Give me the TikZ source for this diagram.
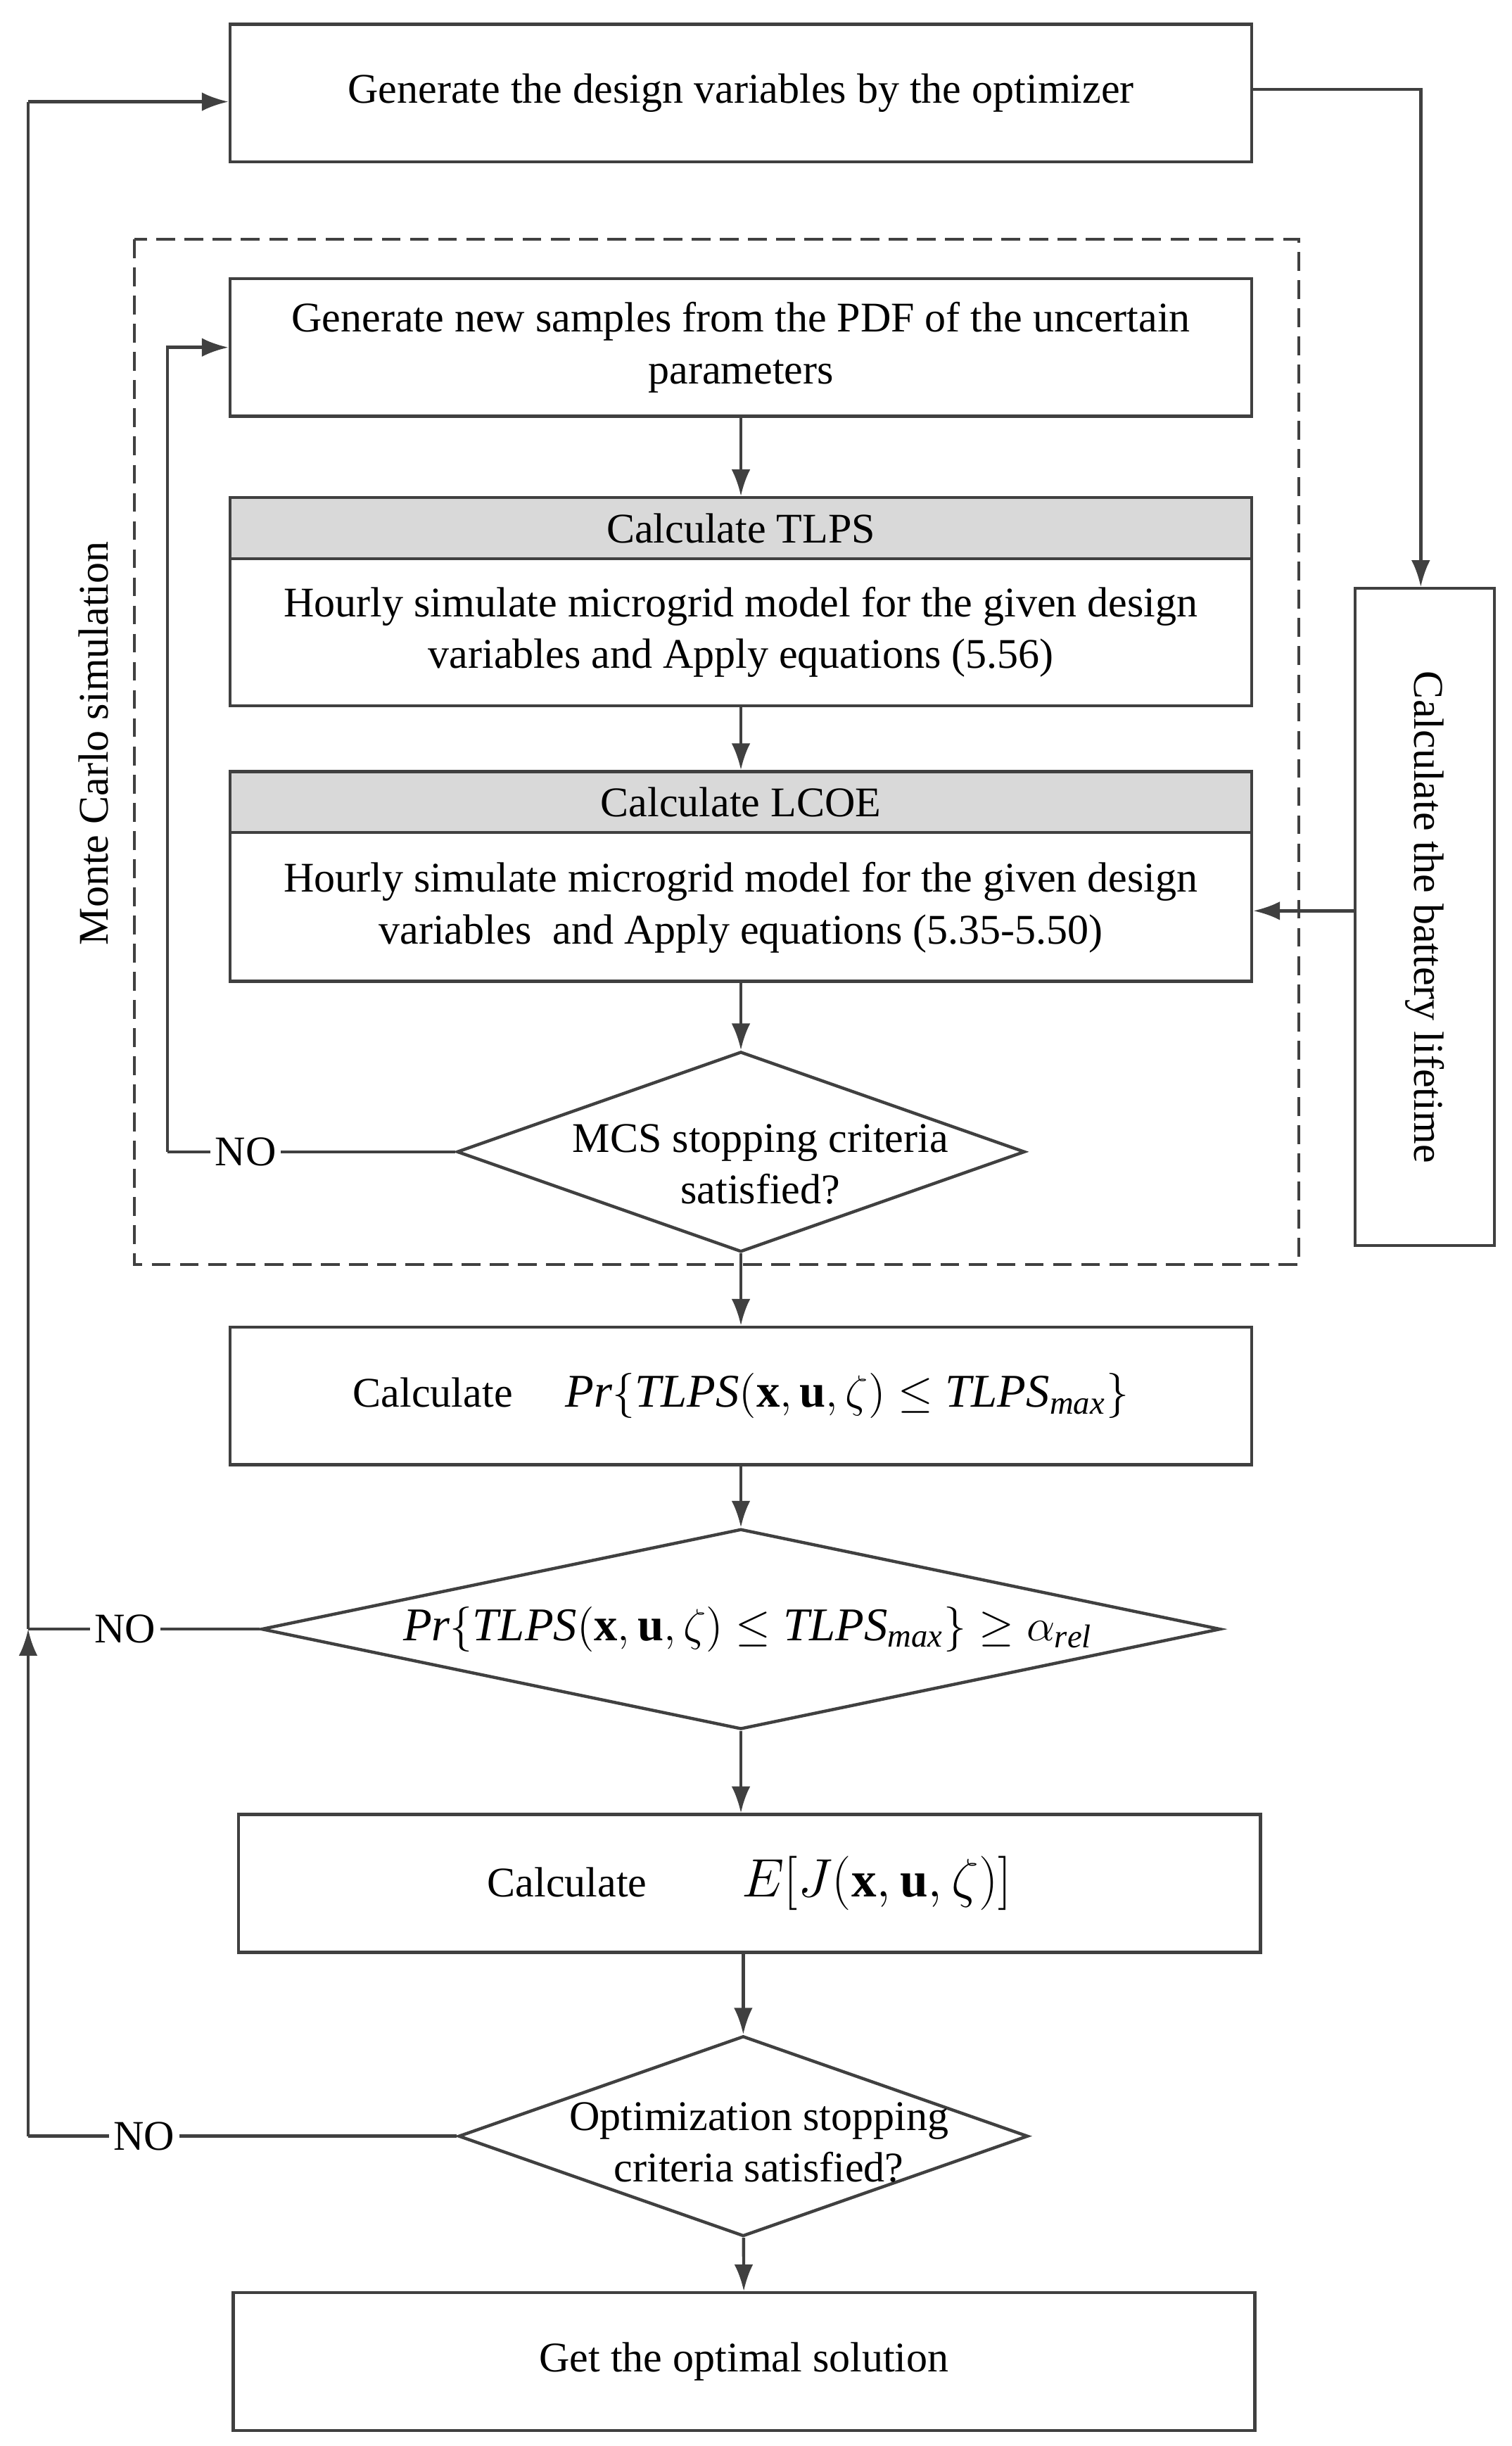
\documentclass[tikz,border=0pt]{standalone}
\usepackage{fontspec}
\setmainfont{Liberation Serif}
\usetikzlibrary{arrows.meta,shapes.geometric}
\definecolor{ln}{HTML}{404040}
\tikzset{every picture/.style={line width=1pt}}
\tikzset{
  box/.style={draw=ln, minimum width=326.5pt, minimum height=44pt, inner sep=0pt, align=center},
  hdr/.style={draw=ln, fill=gray!30, minimum width=326.5pt, minimum height=19.5pt, inner sep=0pt},
  dia/.style={draw=ln, diamond, inner sep=0pt},
  arr/.style={draw=ln, -{Latex[length=8.5pt,width=6pt]}},
  lin/.style={draw=ln}
}
\begin{document}
\begin{tikzpicture}[x=0.5pt,y=0.5pt,yscale=-1,xscale=1,font=\fontsize{13.5}{16.5}\selectfont]
\useasboundingbox (0,0) rectangle (966,1563);

% Top box
\node[box] (gen) at (473.5,59.5) {Generate the design variables by the optimizer};
% Monte Carlo frame
\draw[ln, dashed, dash pattern=on 6pt off 3pt] (86,153) rectangle (830,808);
\node[rotate=90] (mcs) at (60,475) {Monte Carlo simulation};
\node[box] (smp) at (473.5,222) {Generate new samples from the PDF of the uncertain\\parameters};
% TLPS
\node[box, minimum height=66.5pt] (tlps) at (473.5,384.5) {};
\node[hdr, anchor=north] (tlpsh) at (tlps.north) {Calculate TLPS};
\node[align=center] (tlpst) at (473.5,404) {Hourly simulate microgrid model for the given design\\variables and Apply equations (5.56)};
% LCOE
\node[box, minimum height=67pt] (lcoe) at (473.5,560) {};
\node[hdr, anchor=north] (lcoeh) at (lcoe.north) {Calculate LCOE};
\node[align=center] (lcoet) at (473.5,580) {Hourly simulate microgrid model for the given design\\variables \ and Apply equations (5.35-5.50)};
% MCS decision
\node[dia, minimum width=181.5pt, minimum height=64pt] (d1) at (473.5,736) {};
\node[align=center] (d1t) at (486,744) {MCS stopping criteria\\satisfied?};
% Battery
\node[draw=ln, minimum width=44.5pt, minimum height=210pt, inner sep=0pt] (bat) at (910.5,586) {};
\node[rotate=-90] (batt) at (910.5,586) {Calculate the battery lifetime};
% Probability
\node[box] (pr) at (473.5,892) {Calculate \quad {\fontsize{15}{17}\selectfont$\mathit{Pr}\{\mathit{TLPS}(\mathbf{x},\mathbf{u},\zeta)\le \mathit{TLPS}_{\mathit{max}}\}$}};
\node[dia, minimum width=306.5pt, minimum height=64pt] (d2) at (473.5,1041) {};
\node (d2t) at (478,1041) {\fontsize{15}{17}\selectfont$\mathit{Pr}\{\mathit{TLPS}(\mathbf{x},\mathbf{u},\zeta)\le \mathit{TLPS}_{\mathit{max}}\}\ge \alpha_{\mathit{rel}}$};
% Expectation
\node[box] (ej) at (479,1203.5) {Calculate \qquad {\fontsize{16}{18}\selectfont$E\Big[J(\mathbf{x},\mathbf{u},\zeta)\Big]$}};
\node[dia, minimum width=182pt, minimum height=64pt] (d3) at (475,1365) {};
\node[align=center] (d3t) at (485,1369) {Optimization stopping\\criteria satisfied?};
\node[box] (opt) at (475.5,1509) {Get the optimal solution};

% NO labels
\node[fill=white, inner sep=1pt] (no1) at (157,736) {NO};
\node[fill=white, inner sep=1pt] (no2) at (80,1041) {NO};
\node[fill=white, inner sep=1pt] (no3) at (92,1365) {NO};
\coordinate (c1) at (107,736);
\coordinate (c2) at (107,222);
\coordinate (l1) at (18,1365);
\coordinate (l2) at (18,1041);
\coordinate (l3) at (18,65);
\coordinate (r1) at (908,57);

% Connectors
\draw[arr] (smp) -- (tlps);
\draw[arr] (tlps) -- (lcoe);
\draw[arr] (lcoe) -- (d1);
\draw[arr] (d1) -- (pr);
\draw[arr] (pr) -- (d2);
\draw[arr] (d2.south) -- (d2.south |- ej.north);
\draw[arr] (d3.north |- ej.south) -- (d3);
\draw[arr] (d3) -- (opt);
\draw[lin] (d1.west) -- (no1) -- (c1);
\draw[arr] (c1) -- (c2) -- (smp.west);
\draw[lin] (d3.west) -- (no3) -- (l1);
\draw[arr] (l1) -- (l2);
\draw[lin] (l2) -- (l3);
\draw[arr] (l3) -- (gen.west |- l3);
\draw[lin] (d2.west) -- (no2) -- (l2);
\draw[arr] (gen.east |- r1) -- (r1) -- (r1 |- bat.north);
\draw[arr] (bat.west |- 0,582) -- (lcoe.east |- 0,582);
\end{tikzpicture}
\end{document}
